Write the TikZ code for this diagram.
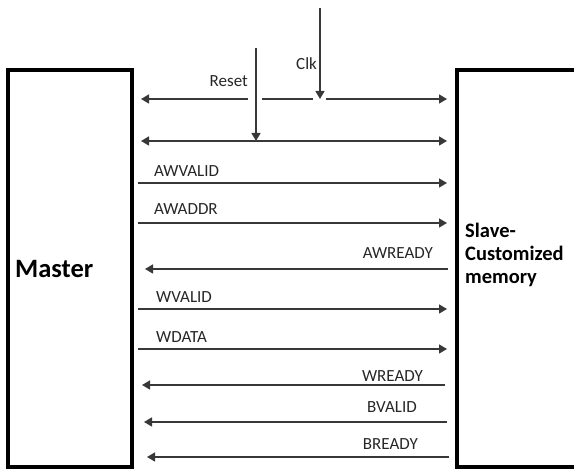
\documentclass[tikz,border=0pt]{standalone}
\usepackage{fontspec}
\setmainfont{Carlito}
\usetikzlibrary{arrows.meta}
\begin{document}
\begin{tikzpicture}[x=1pt,y=-1pt,
  box/.style={draw=black,line width=3.6pt,rectangle,inner sep=0pt,outer sep=0pt},
  sig/.style={draw=black!78,line width=1.4pt},
  tipr/.style={-{Triangle[length=8pt,width=9pt]}},
  tipl/.style={{Triangle[length=8pt,width=9pt]}-},
  tipb/.style={{Triangle[length=8pt,width=9pt]}-{Triangle[length=8pt,width=9pt]}},
  lbl/.style={font=\fontsize{17}{20}\selectfont,text=black!85,inner sep=0pt},
  big/.style={font=\fontsize{#1}{23}\selectfont\bfseries,text=black,inner sep=0pt}]
\useasboundingbox (0,0) rectangle (574,470);
\clip (0,0) rectangle (574,470);
% boxes
\node[box,minimum width=124pt,minimum height=397pt] (master) at (70,268.5) {};
\node[box,minimum width=143pt,minimum height=397pt] (slave) at (528.5,268.5) {};
\node[big=26.5,anchor=west] (mtext) at (15,269) {Master};
\node[big=20.5,anchor=west,align=left] (stext) at (465,255) {Slave-\\Customized\\memory};
% row 1 (Clk) with gaps
\coordinate (r1l) at (141,99);
\coordinate (r1a) at (248,99);
\coordinate (r1b) at (262,99);
\coordinate (r1c) at (313,99);
\coordinate (r1d) at (326,99);
\coordinate (r1r) at (447,99);
\draw[sig,tipl] (r1l) -- (r1a);
\draw[sig] (r1b) -- (r1c);
\draw[sig,tipr] (r1d) -- (r1r);
% row 2 (Reset)
\coordinate (r2l) at (141,141);
\coordinate (r2r) at (447,141);
\draw[sig,tipb] (r2l) -- (r2r);
% vertical inputs
\coordinate (clktop) at (320,8);
\coordinate (clkend) at (320,99);
\coordinate (rsttop) at (256,48);
\coordinate (rstend) at (256,141);
\draw[sig,tipr] (clktop) -- (clkend);
\draw[sig,tipr] (rsttop) -- (rstend);
\node[lbl,anchor=west] (clk) at (296,64) {Clk};
\node[lbl,anchor=east] (rst) at (248,81) {Reset};
% master -> slave
\foreach \n/\y in {awv/183,awa/223,wv/309,wd/349}{
  \coordinate (\n l) at (138,\y);
  \coordinate (\n r) at (447,\y);
  \draw[sig,tipr] (\n l) -- (\n r);
}
% slave -> master
\foreach \n/\y/\xl/\xr in {awr/269/145/448,wr/385/142/445,bv/422/144/447,br/457/147/449}{
  \coordinate (\n l) at (\xl,\y);
  \coordinate (\n r) at (\xr,\y);
  \draw[sig,tipr] (\n r) -- (\n l);
}
\node[lbl,anchor=west] (lawv) at (154,171) {AWVALID};
\node[lbl,anchor=west] (lawa) at (154,209) {AWADDR};
\node[lbl,anchor=east] (lawr) at (433,253) {AWREADY};
\node[lbl,anchor=west] (lwv) at (156,297) {WVALID};
\node[lbl,anchor=west] (lwd) at (156,337) {WDATA};
\node[lbl,anchor=east] (lwr) at (423,376) {WREADY};
\node[lbl,anchor=east] (lbv) at (417,407) {BVALID};
\node[lbl,anchor=east] (lbr) at (418,444) {BREADY};
\end{tikzpicture}
\end{document}
